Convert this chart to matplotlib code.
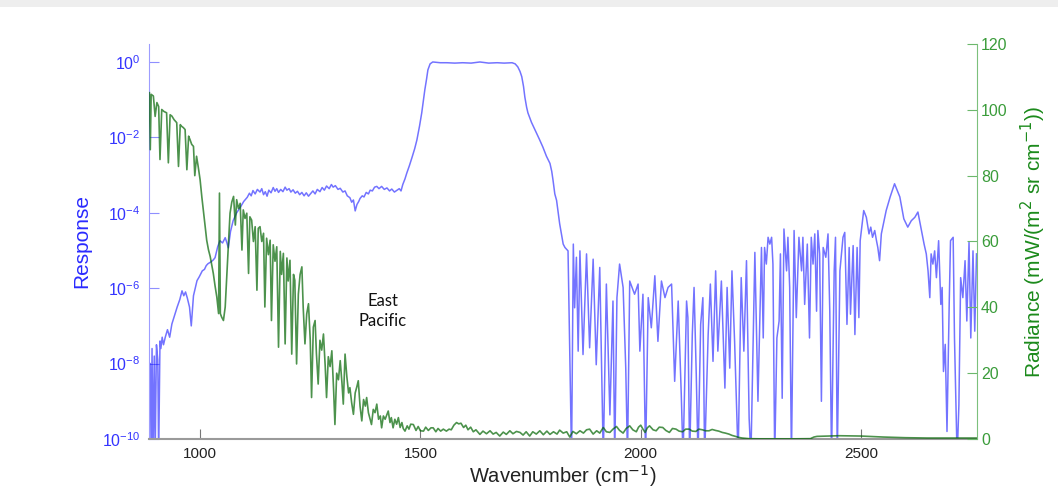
import matplotlib
matplotlib.use("Agg")
import matplotlib.pyplot as plt
from matplotlib.ticker import NullLocator, FixedLocator
from matplotlib.patches import Rectangle
import numpy as np

# detector response (blue, log axis) - wavenumber and log10(response)
blue_wn = [887, 889, 891, 893, 896, 898, 901, 904, 906, 909, 911, 914, 917, 921, 926, 931, 936, 940, 943, 948,
           954, 959, 963, 967, 971, 976, 980, 985, 989, 993, 998, 1005, 1010, 1014, 1018, 1025, 1030, 1034, 1040, 1045,
           1051, 1057, 1061, 1064, 1069, 1075, 1083, 1091, 1099, 1107, 1112, 1116, 1120, 1125, 1130, 1136, 1140, 1144,
           1148, 1152, 1156, 1161, 1166, 1170, 1174, 1178, 1183, 1188, 1193, 1197, 1202, 1206, 1211, 1216, 1221, 1226,
           1231, 1236, 1241, 1246, 1251, 1256, 1261, 1266, 1272, 1277, 1282, 1287, 1293, 1298, 1302, 1307, 1313, 1318,
           1324, 1329, 1334, 1340, 1344, 1348, 1352, 1356, 1360, 1363, 1368, 1372, 1377, 1382, 1386, 1391, 1396, 1401,
           1406, 1412, 1418, 1424, 1430, 1435, 1441, 1447, 1452, 1456, 1460, 1465, 1469, 1475, 1481, 1487, 1492, 1498,
           1503, 1507, 1510, 1514, 1517, 1522, 1528, 1545, 1560, 1578, 1596, 1615, 1635, 1655, 1674, 1690, 1708, 1715,
           1721, 1726, 1730, 1734, 1737, 1741, 1744, 1752, 1760, 1770, 1778, 1786, 1794, 1798, 1801, 1805, 1809, 1816,
           1824, 1828, 1835, 1843, 1847, 1850, 1854, 1858, 1862, 1869, 1877, 1884, 1892, 1899, 1907, 1915, 1922, 1930,
           1937, 1941, 1946, 1952, 1960, 1966, 1970, 1975, 1986, 1994, 1998, 2005, 2011, 2017, 2024, 2032, 2039, 2047,
           2055, 2062, 2070, 2077, 2085, 2092, 2096, 2104, 2107, 2111, 2117, 2121, 2126, 2130, 2136, 2141, 2145, 2153,
           2158, 2164, 2170, 2175, 2183, 2191, 2196, 2202, 2207, 2213, 2221, 2228, 2234, 2240, 2246, 2250, 2259, 2266,
           2274, 2278, 2281, 2285, 2289, 2293, 2297, 2300, 2304, 2309, 2314, 2317, 2321, 2325, 2331, 2334, 2338, 2342,
           2348, 2353, 2359, 2365, 2368, 2372, 2378, 2383, 2387, 2391, 2395, 2399, 2402, 2406, 2410, 2414, 2420, 2425,
           2429, 2433, 2439, 2442, 2446, 2452, 2459, 2463, 2468, 2473, 2476, 2482, 2486, 2491, 2495, 2498, 2506, 2512,
           2518, 2522, 2526, 2531, 2535, 2538, 2542, 2546, 2557, 2566, 2576, 2588, 2597, 2606, 2614, 2622, 2629, 2637,
           2643, 2648, 2652, 2656, 2659, 2663, 2667, 2671, 2676, 2681, 2684, 2687, 2691, 2695, 2700, 2703, 2709, 2712,
           2718, 2722, 2726, 2731, 2736, 2740, 2745, 2749, 2754, 2758, 2762]
blue_log = [-8.0, -10.5, -7.6, -10.5, -7.8, -10.5, -7.5, -7.9, -10.5, -7.4, -7.6, -7.3, -7.5, -7.3, -7.1, -7.3, -6.95,
            -6.8, -6.69, -6.5, -6.3, -6.07, -6.2, -6.1, -6.26, -6.5, -7.0, -6.2, -6.0, -5.8, -5.7, -5.54, -5.5, -5.4,
            -5.35, -5.3, -5.25, -5.19, -4.9, -4.74, -4.8, -4.66, -4.8, -4.93, -4.5, -4.21, -4.0, -3.86, -3.7, -3.59,
            -3.48, -3.55, -3.41, -3.50, -3.38, -3.45, -3.36, -3.52, -3.44, -3.56, -3.40, -3.47, -3.33, -3.43, -3.36,
            -3.46, -3.38, -3.44, -3.32, -3.40, -3.36, -3.45, -3.39, -3.48, -3.43, -3.52, -3.46, -3.55, -3.47, -3.56,
            -3.49, -3.42, -3.50, -3.38, -3.44, -3.33, -3.40, -3.29, -3.36, -3.25, -3.32, -3.28, -3.38, -3.35, -3.45,
            -3.42, -3.55, -3.60, -3.72, -3.66, -3.95, -3.78, -3.70, -3.62, -3.55, -3.58, -3.46, -3.50, -3.40, -3.42,
            -3.32, -3.30, -3.36, -3.30, -3.38, -3.34, -3.42, -3.37, -3.45, -3.40, -3.36, -3.42, -3.25, -3.10, -2.95,
            -2.75, -2.53, -2.3, -2.07, -1.7, -1.35, -1.0, -0.74, -0.45, -0.21, -0.05, 0.0, -0.02, -0.02, -0.03, -0.02,
            -0.03, 0.0, -0.03, -0.02, -0.03, -0.02, -0.05, -0.13, -0.25, -0.39, -0.65, -0.93, -1.2, -1.35, -1.6, -1.8,
            -2.05, -2.26, -2.5, -2.69, -2.9, -3.14, -3.5, -3.67, -4.29, -4.83, -4.92, -5.01, -10.5, -4.83, -6.52, -5.18,
            -7.67, -5.01, -7.76, -5.09, -7.58, -5.23, -8.03, -5.45, -10.5, -5.89, -9.36, -6.34, -10.5, -6.25, -5.36,
            -5.98, -8.12, -10.5, -5.81, -6.16, -5.89, -7.67, -6.16, -10.5, -6.25, -7.05, -5.67, -7.41, -5.81, -6.25,
            -5.98, -5.89, -8.47, -6.34, -8.83, -10.5, -6.34, -6.78, -10.5, -7.23, -5.98, -8.29, -10.5, -6.96, -6.25,
            -10.5, -7.23, -5.89, -7.94, -5.54, -7.67, -5.81, -8.65, -5.98, -8.12, -5.54, -7.41, -10.5, -5.72, -7.67,
            -5.27, -9.45, -10.5, -5.05, -9.0, -4.92, -7.32, -4.92, -5.36, -4.65, -4.83, -4.65, -5.36, -10.5, -7.32,
            -6.87, -5.09, -8.92, -4.43, -5.54, -4.65, -5.98, -10.5, -4.47, -6.78, -4.65, -5.54, -4.65, -6.43, -4.83,
            -7.32, -4.65, -5.36, -4.56, -6.61, -4.47, -5.09, -9.0, -4.92, -5.18, -4.56, -6.61, -10.5, -5.54, -4.65,
            -10.5, -5.54, -4.65, -4.52, -6.96, -4.92, -6.69, -4.87, -7.23, -4.92, -6.78, -4.74, -3.94, -4.12, -4.56,
            -4.38, -4.65, -4.47, -4.74, -4.92, -5.27, -4.56, -3.94, -3.58, -3.23, -3.58, -4.16, -4.38, -4.21, -4.12,
            -3.98, -4.47, -4.83, -5.09, -5.54, -6.25, -5.09, -5.36, -5.01, -5.72, -4.74, -6.43, -5.98, -8.21, -7.49,
            -9.8, -6.43, -4.74, -4.65, -7.32, -10.5, -9.1, -5.72, -6.25, -5.27, -6.87, -4.78, -7.32, -5.01, -7.14,
            -5.09]

# radiance (green, right axis)
green_wn = [885, 887, 889, 894, 898, 902, 906, 909, 913, 918, 924, 928, 932, 936, 941, 947, 951, 955, 958, 962,
            966, 970, 974, 977, 981, 985, 988, 992, 996, 1000, 1004, 1008, 1012, 1015, 1019, 1023, 1027, 1030, 1034,
            1038, 1042, 1044, 1046, 1049, 1053, 1057, 1060, 1064, 1068, 1072, 1076, 1080, 1083, 1087, 1091, 1095,
            1098, 1102, 1106, 1110, 1113, 1117, 1121, 1125, 1129, 1132, 1136, 1140, 1144, 1147, 1151, 1155, 1159,
            1162, 1166, 1170, 1174, 1178, 1182, 1185, 1189, 1193, 1197, 1200, 1204, 1208, 1212, 1215, 1219, 1223,
            1227, 1231, 1234, 1238, 1242, 1246, 1250, 1253, 1257, 1261, 1264, 1268, 1272, 1276, 1280, 1284, 1287,
            1291, 1295, 1299, 1303, 1306, 1310, 1314, 1318, 1322, 1325, 1329, 1333, 1337, 1340, 1344, 1348, 1352,
            1356, 1359, 1363, 1367, 1371, 1375, 1378, 1382, 1386, 1389, 1393, 1397, 1401, 1405, 1409, 1412, 1416,
            1420, 1427, 1431, 1434, 1438, 1442, 1446, 1450, 1454, 1458, 1461, 1465, 1470, 1474, 1478, 1484, 1490,
            1495, 1500, 1507, 1512, 1518, 1524, 1529, 1535, 1540, 1546, 1552, 1559, 1565, 1570, 1576, 1582, 1587,
            1592, 1598, 1603, 1608, 1614, 1620, 1626, 1635, 1642, 1650, 1658, 1665, 1672, 1680, 1688, 1695, 1703,
            1710, 1718, 1726, 1733, 1740, 1748, 1755, 1763, 1771, 1779, 1787, 1794, 1802, 1810, 1816, 1824, 1832,
            1839, 1846, 1854, 1862, 1870, 1877, 1884, 1892, 1900, 1907, 1915, 1922, 1930, 1937, 1945, 1952, 1960,
            1967, 1975, 1982, 1990, 1995, 2000, 2005, 2010, 2015, 2020, 2028, 2035, 2042, 2050, 2057, 2065, 2072,
            2080, 2087, 2095, 2102, 2110, 2117, 2125, 2132, 2140, 2147, 2155, 2162, 2170, 2177, 2185, 2192, 2200,
            2207, 2215, 2222, 2230, 2237, 2245, 2270, 2300, 2350, 2385, 2393, 2400, 2450, 2500, 2550, 2600, 2650,
            2700, 2762]
green_rad = [105.2, 87.9, 104.7, 104.2, 98.0, 102.2, 101.0, 84.9, 100.1, 99.5, 99.1, 83.9, 98.5, 98.1, 97.0, 96.1,
             82.8, 95.5, 95.0, 94.6, 94.0, 81.8, 92.0, 91.0, 89.5, 88.9, 80.0, 85.9, 82.5, 78.8, 73.5, 68.6, 64.0,
             60.4, 57.5, 55.4, 52.5, 50.3, 46.5, 43.1, 38.1, 74.7, 38.1, 37.0, 36.0, 40.1, 48.2, 58.4, 68.6, 72.0,
             73.7, 65.0, 72.7, 70.0, 71.6, 57.4, 69.6, 67.0, 68.6, 50.3, 67.5, 66.5, 60.0, 64.5, 45.2, 64.0, 64.5,
             60.0, 62.5, 40.1, 61.0, 56.0, 60.4, 36.0, 59.0, 54.0, 58.4, 27.9, 57.0, 50.0, 56.4, 28.9, 55.0, 48.0,
             54.3, 25.8, 50.0, 48.2, 22.8, 44.0, 50.0, 52.3, 40.0, 28.9, 38.0, 41.1, 30.0, 12.6, 34.0, 36.0, 26.0,
             16.7, 30.0, 27.0, 31.9, 22.0, 12.6, 25.0, 22.0, 26.8, 15.0, 4.4, 20.0, 18.0, 23.8, 17.0, 10.6, 25.8,
             19.0, 14.0, 15.6, 11.0, 7.5, 14.0, 16.0, 17.7, 10.0, 5.5, 12.0, 10.0, 12.6, 8.0, 6.0, 4.4, 9.0, 8.0,
             10.6, 6.0, 7.0, 3.4, 7.0, 6.0, 8.5, 5.0, 6.5, 3.4, 6.0, 4.5, 6.5, 3.5, 5.0, 3.2, 2.4, 4.0, 3.0, 4.5,
             4.4, 2.6, 3.8, 2.5, 2.4, 3.6, 2.6, 3.4, 3.4, 2.2, 3.2, 2.4, 3.0, 2.4, 3.0, 2.8, 4.2, 5.0, 4.6, 4.8, 3.5,
             4.2, 2.8, 3.6, 2.2, 2.8, 1.4, 2.4, 1.6, 2.5, 1.5, 2.0, 0.9, 2.1, 1.4, 2.5, 1.6, 2.3, 2.0, 1.2, 2.2, 0.9,
             2.2, 1.5, 2.5, 1.3, 2.4, 1.4, 2.2, 1.5, 2.7, 1.8, 2.2, 0.6, 2.3, 1.6, 2.5, 1.8, 2.8, 3.0, 1.5, 2.5, 1.8,
             3.5, 2.2, 2.0, 3.0, 3.8, 2.6, 1.8, 3.2, 4.0, 2.8, 2.2, 3.6, 4.2, 3.0, 2.0, 3.4, 4.0, 2.8, 2.5, 3.6, 3.5,
             2.6, 2.0, 3.2, 3.0, 2.4, 2.2, 3.0, 3.0, 2.4, 2.3, 3.0, 2.8, 2.5, 2.5, 2.9, 2.6, 2.4, 2.0, 1.8, 1.5, 1.1,
             0.8, 0.5, 0.3, 0.2, 0.1, 0.05, 0.05, 0.05, 0.1, 0.6, 0.8, 1.0, 0.9, 0.6, 0.4, 0.3, 0.3, 0.3]

x_ticks = [1000, 1500, 2000, 2500]
left_ticks = [1e0, 1e-2, 1e-4, 1e-6, 1e-8, 1e-10]
right_ticks = [0, 20, 40, 60, 80, 100, 120]

plt.rcParams['font.family'] = ['Liberation Sans', 'DejaVu Sans']

fig = plt.figure(figsize=(10.58, 4.92), dpi=100)
# light grey strip along the top edge, as on the slide the chart came from
fig.add_artist(Rectangle((0, 1 - 7 / 492), 1, 7 / 492, transform=fig.transFigure,
                         facecolor='#eeeeee', edgecolor='none'))
ax = fig.add_axes([0.1408, 0.1077, 0.7826, 0.8029])

ax.plot(blue_wn, 10 ** np.array(blue_log), color='#0000ff', alpha=0.55, lw=1.1)
ax.set_yscale('log')
ax.set_xlim(884, 2763)
ax.set_ylim(1e-10, 3.0)
ax.yaxis.set_major_locator(FixedLocator(left_ticks))
ax.yaxis.set_minor_locator(NullLocator())
ax.set_xticks(x_ticks)
ax.tick_params(axis='x', direction='in', length=7, colors='#777777', labelcolor='#222222', labelsize=11, pad=6)
ax.tick_params(axis='y', direction='in', length=7, colors='#8f8fff', labelcolor='#3434ff', labelsize=11.5, pad=6)
ax.set_ylabel('Response', color='#2a2aff', fontsize=15, labelpad=8)
ax.set_xlabel('Wavenumber (cm$^{-1}$)', color='#222222', fontsize=14.5, labelpad=1)
ax.spines['top'].set_visible(False)
ax.spines['right'].set_visible(False)
ax.spines['left'].set_color('#9d9dff')
ax.spines['bottom'].set_color('#9a9a9a')
ax.spines['bottom'].set_linewidth(1.5)

ax.text(1415, 10 ** -6.6, 'East\nPacific', ha='center', va='center', fontsize=12,
        family=['Lato', 'DejaVu Sans'], color='#111111', linespacing=1.3)

ax2 = ax.twinx()
ax2.plot(green_wn, green_rad, color='#006400', alpha=0.7, lw=1.2)
ax2.set_ylim(0, 120)
ax2.set_yticks(right_ticks)
ax2.tick_params(axis='y', direction='in', length=7, colors='#6cb86c', labelcolor='#3a9c3a', labelsize=11.5, pad=3)
ax2.set_ylabel('Radiance (mW/(m$^2$ sr cm$^{-1}$))', color='#1b8a1b', fontsize=15, labelpad=8)
ax2.spines['top'].set_visible(False)
ax2.spines['left'].set_visible(False)
ax2.spines['bottom'].set_visible(False)
ax2.spines['right'].set_color('#7cc07c')

fig.savefig('out.png', dpi=100)
